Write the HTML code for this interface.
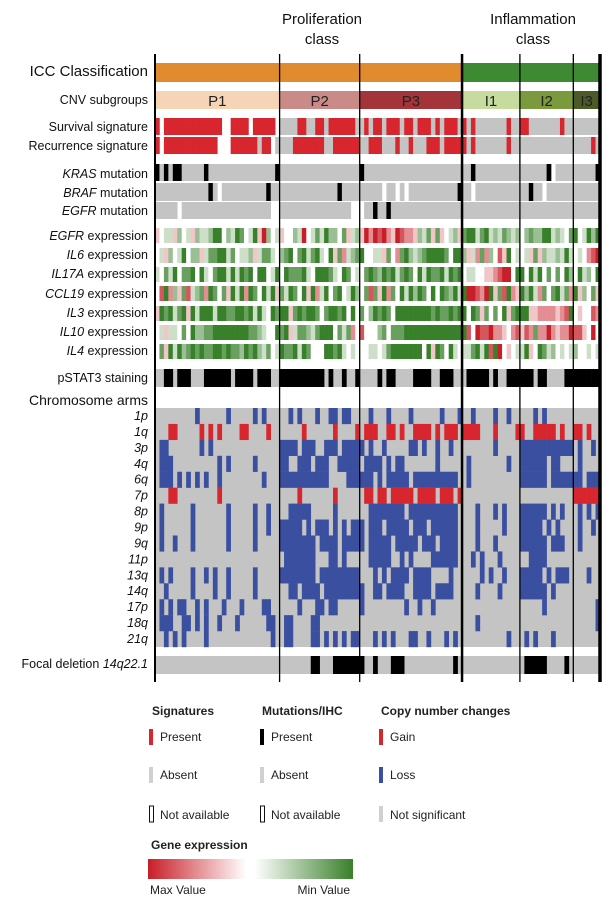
<!DOCTYPE html>
<html><head><meta charset="utf-8"><style>
body{margin:0;background:#fff}
svg{display:block;font-family:"Liberation Sans",sans-serif}
</style></head><body>
<svg id="chart" width="612" height="906" viewBox="0 0 612 906">
<g id="labels" font-size="12.5" fill="#111" text-anchor="end">
<text x="148" y="76" font-size="15">ICC Classification</text>
<text x="148" y="104">CNV subgroups</text>
<text x="148" y="131">Survival signature</text>
<text x="148" y="150">Recurrence signature</text>
<text x="148" y="178"><tspan font-style="italic">KRAS</tspan> mutation</text>
<text x="148" y="197"><tspan font-style="italic">BRAF</tspan> mutation</text>
<text x="148" y="215"><tspan font-style="italic">EGFR</tspan> mutation</text>
<text x="148" y="240"><tspan font-style="italic">EGFR</tspan> expression</text>
<text x="148" y="259"><tspan font-style="italic">IL6</tspan> expression</text>
<text x="148" y="278"><tspan font-style="italic">IL17A</tspan> expression</text>
<text x="148" y="298"><tspan font-style="italic">CCL19</tspan> expression</text>
<text x="148" y="317"><tspan font-style="italic">IL3</tspan> expression</text>
<text x="148" y="336"><tspan font-style="italic">IL10</tspan> expression</text>
<text x="148" y="355"><tspan font-style="italic">IL4</tspan> expression</text>
<text x="148" y="382">pSTAT3 staining</text>
<text x="148" y="405" font-size="14">Chromosome arms</text>
<text x="148" y="668">Focal deletion <tspan font-style="italic">14q22.1</tspan></text>
</g>
<g font-size="15" fill="#111" text-anchor="middle">
<text x="322" y="24">Proliferation</text>
<text x="322" y="44">class</text>
<text x="533" y="24">Inflammation</text>
<text x="533" y="44">class</text>
</g>
<g id="cells"></g>
<g id="seps"></g>
<g id="legend" font-size="12" fill="#222">
<text x="152" y="715" font-weight="bold">Signatures</text>
<text x="262" y="715" font-weight="bold">Mutations/IHC</text>
<text x="381" y="715" font-weight="bold">Copy number changes</text>
<rect x="149" y="729" width="4" height="16" fill="#D8262E"/>
<text x="160" y="741">Present</text>
<rect x="149" y="767" width="4" height="16" fill="#D0D0D0"/>
<text x="160" y="779">Absent</text>
<rect x="149.5" y="806" width="4" height="16" fill="#fff" stroke="#111"/>
<text x="160" y="819">Not available</text>
<rect x="260" y="729" width="4" height="16" fill="#000"/>
<text x="271" y="741">Present</text>
<rect x="260" y="767" width="4" height="16" fill="#D0D0D0"/>
<text x="271" y="779">Absent</text>
<rect x="260.5" y="806" width="4" height="16" fill="#fff" stroke="#111"/>
<text x="271" y="819">Not available</text>
<rect x="379" y="729" width="4" height="16" fill="#D8262E"/>
<text x="390" y="741">Gain</text>
<rect x="379" y="767" width="4" height="16" fill="#3A4FA0"/>
<text x="390" y="779">Loss</text>
<rect x="379" y="806" width="4" height="16" fill="#D0D0D0"/>
<text x="390" y="819">Not significant</text>
<text x="151" y="849" font-weight="bold">Gene expression</text>
<defs><linearGradient id="gx" x1="0" x2="1"><stop offset="0" stop-color="#C81E28"/><stop offset="0.48" stop-color="#fff"/><stop offset="0.52" stop-color="#fff"/><stop offset="1" stop-color="#38802A"/></linearGradient></defs>
<rect x="148" y="859" width="205" height="20" fill="url(#gx)"/>
<text x="150" y="894">Max Value</text>
<text x="350" y="894" text-anchor="end">Min Value</text>
</g>
</svg>
<script>
const N = 100;
const groupNames = ["P1","P2","P3","I1","I2","I3"];
const groupBounds = [0,28,46,69,82,94,100];
const survival = "r.rrrrrrrr rrrrr..rrr r.rrrrr.gg ggrrggrrgr rrrrrggrgr rgrrrgrrgr rrgrgrrrgr grgggggggr ggrrgggggg grgggggggg";
const recurrence = "r.rrrrrrrr rrrr...rrr rrrgrr.ggg grrrrrrrgg rrrrrrggrr rgggrggrgg grrrgrrrrr grgggggggr gggggggggg ggggggggrg";
const kras = "kgkgkkgggg gkgggggggg gggggggkgg gggggggggg ggggggkggg gggggggggg gggggggggg gkgggggggg ggggggggk. gggggggggk";
const braf = "gggggggggg ggkg.ggggg gggggkgggg gggggggggg gkgggggggg g.gg.g.ggg ggggggggkg g.gggggggg ggggkgg.gg gggggggggg";
const egfrMut = "ggggg.gggg gggggggggg gggggg..gg gggggggggg gggg...ggk ggkggggggg gggggggggg gggggggggg gggggggggg gggggggggg";
const exprEGFR = "3455364536 5568846587 4583064534 4650457586 6473563020 1023012236 5737345637 8857856576 5646766885 6547845868";
const exprIL6 = "4536458466 3577885745 5635775467 8478578548 3725678445 5374278656 7888874886 3527264138 4545373655 6585454210";
const exprIL17A = "5475847784 8547885858 7848845848 7778548887 5487454787 6878578748 5877858784 5544332100 4884858474 7486485648";
const exprCCL19 = "4182637156 7287473858 2874858375 8748382584 7845864717 3827485868 7484876858 0012083718 2386852747 8572836473";
const exprIL3 = "3878578385 8885887788 7858548788 3787887478 8784847468 7874888888 8878778788 4873747483 7888332222 3218434412";
const exprIL10 = "4535547486 6778888888 8776544878 3577657888 4757241444 6747778888 8888888888 1401102234 2131272202 3220113404";
const exprIL4 = "4738586787 8778878776 8786574587 7858744488 7854544455 4578888888 4838748545 5785818043 4558348756 4545644545";
const pstat3 = "..kk.kkk.. .kkkkkk.kk kk.kkk..kk kkkkkkkk.k ..k..k.... k.kk....kk kk..kkk... kkkkk.k..k kkkkk.kk.. ..kkkkkkkk";
const chromArms = ["1p","1q","3p","4q","6q","7p","8p","9p","9q","11p","13q","14q","17p","18q","21q"];
const chrom1p = ".........b ......b... ..b.b..... b.b...b..b b.bb....b. ..b....b.. ....b...b. .b....b..b .....b.b.. ..........";
const chrom1q = "...rr..... r.r.r....r r....r.... ...r...... r....r.rrr ..rr.r..rr rr.r.rrr.r rrr...r... .rr..rrrrr .r..rr.r..";
const chrom3p = ".bb....... b.b....... ........bb bb.bbb..bb b.bbbbb.b. .b.....bb. b..b..b... ......b... ..bbbbbbbb bbbb.b..b.";
const chrom4q = ".bbb...... ....b.b... ..b.....bb ..bbb.bbb. .bbbbb.bbb b.b.bb.... ...b...... b........b ..bbbbbb.b b....b....";
const chrom6q = ".bbb.b.b.b .b..b..... ....b...bb bbbbbbbbb. ...bbbbbb. b.bbbbb.bb bbbbbbbb.. b......... ..bbbbbb.b bbbbbb.bbb";
const chrom7p = "...rr..... ....r..... .......... ..r....... r......rr. rr.rrrrr.r rrr.rrr.r. .......... .......... ....rrrrrr";
const chrom8p = ".b......b. ......b... ..b..b.... bbbbb..... b.......bb bbbbbb.bbb bbbbbbbb.. ..b...b.b. ..bbbbbb.b .b...b.b.b";
const chrom9p = ".b......b. ......b... ..b..b..bb bbb.b.bbb. b.b.bbb.bb b.bbbbb.bb b.bbbbbb.. ..b.....b. ..bbbbb.b. b....b..b.";
const chrom9q = ".b..b...b. ......b... ..b.....bb bbbbbb.bbb b.bbbbb.bb bbb.bbbbb. bbb.bbbb.. ..b...b... ..bbbbbb.b bb...b....";
const chrom11p = ".......... .......... .........b bbbbbb...b b.b.....bb bbb..b.b.. ..bbbbbb.. .b.b...b.. ....bbbb.. ..........";
const chrom13q = ".b.b....b. .b.b..b... ..b.....bb bbbbbb.bbb bbbbbb...b .b.bbbb.bb bb....b... ...b.b..b. ..bbbbb.b. bbb....b..";
const chrom14q = "..b.....b. ...b..b... ..b....... bb.bbbb.bb bbbbbbb..b b.bbbb..bb bb.bbbb... ..b....b.. ..bbbbbb.b ..........";
const chrom17p = ".b.b.bb..b .b...b...b ....bb.... ..b...bb.b b.....b... ......b..b ..b....... .......... .......b.. .........b";
const chrom18q = ".bbb..bb.b .b..b...b. .....bb..b b....bb... .......... .......... .......... ..b....... .......... .........b";
const chrom21q = "..b.b.b... .b........ ......b..b b....bb.b. b.b.bb...b .b.b...bb. .b...b.b.. .........b ...b.b...b ..........";
const focal = ".......... .......... .......... .....kk... kkkkkkk..k ...kkk.... .......k.. .......... ...kkkkk.. ..k.......";
const chromRows = [chrom1p,chrom1q,chrom3p,chrom4q,chrom6q,chrom7p,chrom8p,chrom9p,chrom9q,chrom11p,chrom13q,chrom14q,chrom17p,chrom18q,chrom21q];

const X0 = 155, X1 = 600;
const cw = (X1 - X0) / N;
const xs = i => X0 + i * cw;
const NS = "http://www.w3.org/2000/svg";
const cells = document.getElementById("cells");
const COL = {r:"#D8262E", g:"#C4C4C4", k:"#000", b:"#3A4FA0"};
function clean(s){ return s.replace(/ /g,""); }
function mk(tag, attrs, parent){
  const e = document.createElementNS(NS, tag);
  for (const k in attrs) e.setAttribute(k, attrs[k]);
  (parent || cells).appendChild(e);
  return e;
}
function exprColor(d){
  const v = (d - 4) / 4;
  let r,g,b;
  if (v < 0){ const t=-v; r=255+(200-255)*t; g=255+(30-255)*t; b=255+(40-255)*t; }
  else { const t=v; r=255+(56-255)*t; g=255+(128-255)*t; b=255+(42-255)*t; }
  return `rgb(${r|0},${g|0},${b|0})`;
}
function catRow(str, y, h, name, bg){
  const s = clean(str);
  if (bg){
    const r = mk("rect",{x:X0,y:y,width:X1-X0,height:h,fill:bg});
    
    
  }
  for (let i=0;i<N;i++){
    const c = s[i];
    if (!c || c === ".") continue;
    if (bg && c === "g") continue;
    const r = mk("rect",{x:xs(i).toFixed(2),y:y,width:(cw+0.3).toFixed(2),height:h,fill:COL[c]});
    
    
  }
}
function exprRow(str, y, h, name){
  const s = clean(str);
  for (let i=0;i<N;i++){
    const r = mk("rect",{x:xs(i).toFixed(2),y:y,width:(cw+0.3).toFixed(2),height:h,fill:exprColor(+s[i])});
    
    
  }
}
const icc1 = mk("rect",{x:X0,y:63,width:xs(groupBounds[3])-X0,height:19,fill:"#E08B2E"});


const icc2 = mk("rect",{x:xs(groupBounds[3]),y:63,width:X1-xs(groupBounds[3]),height:19,fill:"#3E8A32"});


const cnvColors = ["#F5D5B5","#C98A88","#A3353A","#C6DC9E","#7A9A3D","#4C5A28"];
for (let gI=0; gI<groupNames.length; gI++){
  const a = xs(groupBounds[gI]), b = xs(groupBounds[gI+1]);
  const r = mk("rect",{x:a,y:91,width:b-a,height:18,fill:cnvColors[gI]});
  
  
  const t = mk("text",{x:(a+b)/2,y:106,"font-size":15,"text-anchor":"middle",fill:"#222"});
  t.textContent = groupNames[gI];
  
  
}
catRow(survival, 118, 17, "survival-signature");
catRow(recurrence, 137, 17, "recurrence-signature");
catRow(kras, 164, 17, "kras-mutation");
catRow(braf, 183, 18, "braf-mutation");
catRow(egfrMut, 202, 17, "egfr-mutation");
exprRow(exprEGFR, 228, 15, "egfr-expression");
exprRow(exprIL6, 248, 15, "il6-expression");
exprRow(exprIL17A, 267, 15, "il17a-expression");
exprRow(exprCCL19, 286, 15, "ccl19-expression");
exprRow(exprIL3, 306, 15, "il3-expression");
exprRow(exprIL10, 325, 15, "il10-expression");
exprRow(exprIL4, 344, 15, "il4-expression");
catRow(pstat3, 369, 18, "pstat3-staining", "#C4C4C4");
const CY0 = 408, CY1 = 647, rh = (CY1-CY0)/chromArms.length;
const bgc = mk("rect",{x:X0,y:CY0,width:X1-X0,height:CY1-CY0,fill:"#C4C4C4"});


const lab = document.getElementById("labels");
for (let j=0;j<chromArms.length;j++){
  catRow(chromRows[j], (CY0 + j*rh).toFixed(2), (rh+0.2).toFixed(2), "chrom-" + chromArms[j]);
  const t = mk("text",{x:148,y:(CY0 + j*rh + rh*0.75).toFixed(1),"font-style":"italic"}, lab);
  t.textContent = chromArms[j];
  
  
}
catRow(focal, 656, 18, "focal-deletion", "#C4C4C4");
const seps = document.getElementById("seps");
const sepCols = [0,28,46,69,82,94,100];
const sepW = [2,1.3,1.3,2.5,1.3,1.3,3.5];
for (let k=0;k<sepCols.length;k++){
  const x = xs(sepCols[k]);
  const l = mk("line",{x1:x,x2:x,y1:54,y2:682,stroke:"#000","stroke-width":sepW[k]}, seps);
  
  
}
</script>
</body></html>
